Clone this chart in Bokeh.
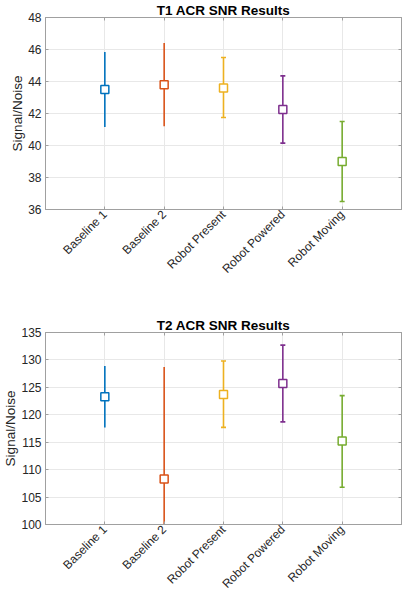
import math
from bokeh.plotting import figure
from bokeh.layouts import column
from bokeh.models import Range1d, FixedTicker, ColumnDataSource, LinearAxis
from bokeh.embed import file_html
from bokeh.resources import INLINE

categories = ["Baseline 1", "Baseline 2", "Robot Present", "Robot Powered", "Robot Moving"]
colors = ["#0072BD", "#D95319", "#EDB120", "#7E2F8E", "#77AC30"]

t1_mean = [43.5, 43.8, 43.6, 42.25, 39.0]
t1_low = [41.15, 41.2, 41.75, 40.15, 36.5]
t1_high = [45.85, 46.4, 45.5, 44.35, 41.5]

t2_mean = [123.3, 108.3, 123.7, 125.7, 115.2]
t2_low = [117.7, 87.9, 117.7, 118.7, 106.8]
t2_high = [128.9, 128.7, 129.8, 132.7, 123.5]

t1_yticks = [36, 38, 40, 42, 44, 46, 48]
t2_yticks = [100, 105, 110, 115, 120, 125, 130, 135]

capped = [False, False, True, True, True]

FONT = "Liberation Sans"
TXT = "#262626"
FRAME = "#a0a0a0"
GRID = "#e8e8e8"


def style_axis(ax):
    ax.axis_line_color = FRAME
    ax.major_tick_line_color = FRAME
    ax.major_tick_in = 3
    ax.major_tick_out = 0
    ax.minor_tick_line_color = None
    ax.major_label_text_font = FONT
    ax.major_label_text_font_size = "12px"
    ax.major_label_text_color = TXT


def mirror_axis(p, ticks, side):
    ax = LinearAxis(ticker=FixedTicker(ticks=ticks))
    style_axis(ax)
    ax.major_label_text_font_size = "0px"
    ax.major_label_standoff = 0
    ax.major_label_text_alpha = 0
    p.add_layout(ax, side)


def make(title, mean, low, high, yr, yticks, height, top, bottom, right):
    positions = list(range(1, len(categories) + 1))
    p = figure(width=403, height=height, x_range=Range1d(0, 6), y_range=Range1d(*yr),
               output_backend="svg", toolbar_location=None,
               min_border_top=top, min_border_bottom=bottom,
               min_border_left=0, min_border_right=right)
    p.background_fill_color = "white"
    p.border_fill_color = "white"
    p.outline_line_color = FRAME
    p.title.text = title
    p.title.text_font = FONT
    p.title.text_font_size = "13.5px"
    p.title.text_font_style = "bold"
    p.title.text_color = "#000000"
    p.title.align = "center"
    p.title.standoff = 0

    p.xaxis.ticker = FixedTicker(ticks=positions)
    p.xaxis.major_label_overrides = {k: v for k, v in zip(positions, categories)}
    p.xaxis.major_label_orientation = math.pi / 4
    p.xaxis.major_label_standoff = 3
    p.yaxis.ticker = FixedTicker(ticks=yticks)
    p.yaxis.major_label_standoff = 4
    p.yaxis.axis_label = "Signal/Noise"
    p.yaxis.axis_label_text_font = FONT
    p.yaxis.axis_label_text_font_size = "13.5px"
    p.yaxis.axis_label_text_font_style = "normal"
    p.yaxis.axis_label_text_line_height = 1.0
    p.yaxis.axis_label_text_color = TXT
    p.yaxis.axis_label_standoff = 0
    style_axis(p.xaxis[0])
    style_axis(p.yaxis[0])
    mirror_axis(p, yticks, "right")
    mirror_axis(p, positions, "above")

    p.xgrid.ticker = FixedTicker(ticks=positions)
    p.ygrid.ticker = FixedTicker(ticks=yticks)
    p.grid.grid_line_color = GRID
    p.grid.grid_line_width = 1

    src = ColumnDataSource(dict(x=positions, m=mean, lo=low, hi=high, c=colors))
    p.segment(x0="x", y0="lo", x1="x", y1="hi", line_color="c", line_width=1.6, source=src)
    cx = [x for x, k in zip(positions, capped) if k]
    cc = [c for c, k in zip(colors, capped) if k]
    chi = [h for h, k in zip(high, capped) if k]
    clo = [l for l, k in zip(low, capped) if k]
    p.scatter(x=cx + cx, y=chi + clo, marker="dash", size=5, line_width=1.6,
              line_color=cc + cc)
    p.scatter(x="x", y="m", marker="square", size=8, line_width=1.5,
              line_color="c", fill_color="white", source=src)
    return p


p1 = make("T1 ACR SNR Results", t1_mean, t1_low, t1_high, (36, 48), t1_yticks,
          300, 16, 91, 2)
p2 = make("T2 ACR SNR Results", t2_mean, t2_low, t2_high, (100, 135), t2_yticks,
          300, 32, 76, 1)

layout = column(p1, p2)
open("out.html", "w").write(file_html(layout, INLINE))
